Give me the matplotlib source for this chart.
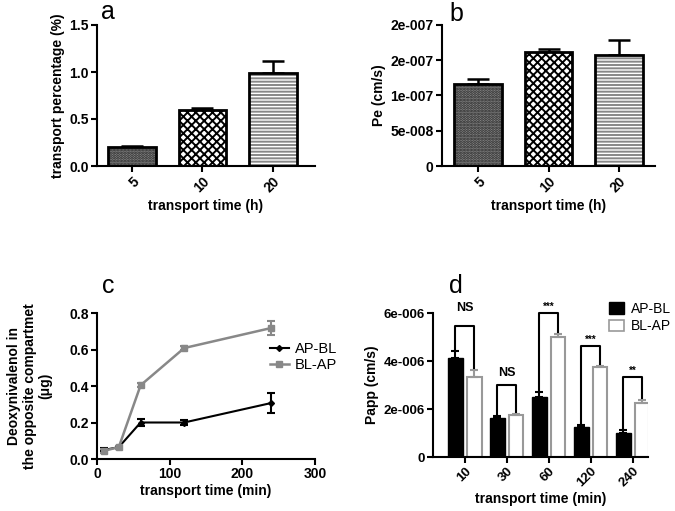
import numpy as np
import matplotlib
matplotlib.use("Agg")
import matplotlib.pyplot as plt
from matplotlib.lines import Line2D
from matplotlib.patches import Patch

plt.rcParams['font.family'] = ['Liberation Sans', 'DejaVu Sans']
plt.rcParams['font.weight'] = 'bold'
plt.rcParams['axes.labelweight'] = 'bold'
plt.rcParams['hatch.linewidth'] = 1.4

# %% data
hours = ["5", "10", "20"]
pct = [0.20, 0.60, 0.99]
pct_err = [0.015, 0.02, 0.125]
pe = [1.16e-7, 1.61e-7, 1.57e-7]
pe_err = [0.07e-7, 0.055e-7, 0.22e-7]

minutes = [10, 30, 60, 120, 240]
ap_bl = [0.05, 0.065, 0.20, 0.20, 0.307]
ap_bl_err = [0.008, 0.008, 0.02, 0.015, 0.055]
bl_ap = [0.045, 0.065, 0.404, 0.608, 0.718]
bl_ap_err = [0.01, 0.008, 0.012, 0.01, 0.04]

groups = ["10", "30", "60", "120", "240"]
papp_ap = [4.14e-6, 1.63e-6, 2.51e-6, 1.26e-6, 0.98e-6]
papp_ap_err = [0.28e-6, 0.07e-6, 0.18e-6, 0.06e-6, 0.14e-6]
papp_bl = [3.32e-6, 1.73e-6, 4.99e-6, 3.77e-6, 2.23e-6]
papp_bl_err = [0.31e-6, 0.05e-6, 0.14e-6, 0.03e-6, 0.14e-6]
sig = ["NS", "NS", "***", "***", "**"]
sig_top = [5.44e-6, 3.0e-6, 6.0e-6, 4.63e-6, 3.35e-6]

pe_ticks = [0, 5e-8, 1e-7, 1.5e-7, 2e-7]
pe_labels = ["0", "5e-008", "1e-007", "2e-007", "2e-007"]
papp_ticks = [0, 2e-6, 4e-6, 6e-6]
papp_labels = ["0", "2e-006", "4e-006", "6e-006"]

W, H = 675, 511
fig = plt.figure(figsize=(W / 100, H / 100), dpi=100)

def box(l, t, r, b):
    return [l / W, 1 - b / H, (r - l) / W, (b - t) / H]

def style(ax, size=10):
    for s in ["top", "right"]:
        ax.spines[s].set_visible(False)
    for s in ["left", "bottom"]:
        ax.spines[s].set_linewidth(1.5)
    ax.tick_params(width=1.5, length=4, labelsize=size, pad=2)
    for lab in ax.get_xticklabels() + ax.get_yticklabels():
        lab.set_fontweight("bold")

hatch_styles = [
    dict(facecolor="#8a8a8a", hatch="......", hc="#222222"),
    dict(facecolor="white", hatch="xxxx", hc="black"),
    dict(facecolor="white", hatch="-----", hc="#888888"),
]

def hatched_bars(ax, vals, errs):
    x = np.arange(len(vals))
    for i, v in enumerate(vals):
        st = hatch_styles[i]
        ax.bar(x[i], v, width=0.68, color=st["facecolor"], hatch=st["hatch"],
               edgecolor=st["hc"], linewidth=0, zorder=2)
        ax.bar(x[i], v, width=0.68, fill=False, edgecolor="black",
               linewidth=2, zorder=3)
    ax.errorbar(x, vals, yerr=[np.zeros(len(vals)), errs], fmt="none",
                ecolor="black", elinewidth=1.8, capsize=8, capthick=1.8, zorder=1)
    ax.set_xticks(x)
    ax.set_xticklabels(hours, rotation=45, ha="right", rotation_mode="anchor")
    ax.set_xlabel("transport time (h)", fontsize=10, labelpad=3)

# %% panel a
ax_a = fig.add_axes(box(97, 25, 315, 166))
hatched_bars(ax_a, pct, pct_err)
ax_a.set_xlim(-0.5, 2.6)
ax_a.set_ylim(0, 1.5)
ax_a.set_yticks([0, 0.5, 1.0, 1.5])
ax_a.set_yticklabels(["0.0", "0.5", "1.0", "1.5"])
ax_a.set_ylabel("transport percentage (%)", fontsize=10, labelpad=3)
style(ax_a)

# %% panel b
ax_b = fig.add_axes(box(442, 25, 655, 166))
hatched_bars(ax_b, pe, pe_err)
ax_b.set_xlim(-0.51, 2.51)
ax_b.set_ylim(0, 2e-7)
ax_b.set_yticks(pe_ticks)
ax_b.set_yticklabels(pe_labels)
ax_b.set_ylabel("Pe (cm/s)", fontsize=10, labelpad=3)
style(ax_b)

# %% panel c
ax_c = fig.add_axes(box(97, 313, 315, 459))
ax_c.errorbar(minutes, ap_bl, yerr=ap_bl_err, color="black", marker="D", ms=3,
              lw=1.5, elinewidth=1.5, capsize=3, capthick=1.5, label="AP-BL")
ax_c.errorbar(minutes, bl_ap, yerr=bl_ap_err, color="#888888", marker="s", ms=4,
              lw=1.8, elinewidth=1.5, capsize=3, capthick=1.5, label="BL-AP")
ax_c.set_xlim(0, 300)
ax_c.set_ylim(0, 0.8)
ax_c.set_xticks([0, 100, 200, 300])
ax_c.set_yticks([0, 0.2, 0.4, 0.6, 0.8])
ax_c.set_yticklabels(["0.0", "0.2", "0.4", "0.6", "0.8"])
ax_c.set_xlabel("transport time (min)", fontsize=10, labelpad=2)
ax_c.set_ylabel("Deoxynivalenol in\nthe opposite compartmet\n(\u03bcg)", fontsize=10,
                labelpad=12, linespacing=1.15)
style(ax_c)
leg_c = [Line2D([], [], color="black", marker="D", ms=3, lw=1.5),
         Line2D([], [], color="#888888", marker="s", ms=4, lw=1.8)]
fig.legend(leg_c, ["AP-BL", "BL-AP"], loc="upper left",
           bbox_to_anchor=(270 / W, 1 - 342 / H), frameon=False,
           prop={"size": 10.5, "weight": "normal"}, handlelength=1.3,
           handletextpad=0.4, labelspacing=0.15, borderaxespad=0, borderpad=0)

# %% panel d
ax_d = fig.add_axes(box(433, 313, 648, 457))
xd = np.arange(len(groups))
off = 0.225
ax_d.bar(xd - off, papp_ap, width=0.34, color="black", edgecolor="black",
         yerr=[np.zeros(5), papp_ap_err], error_kw=dict(ecolor="black", elinewidth=1.5,
                                                        capsize=3, capthick=1.5))
ax_d.bar(xd + off, papp_bl, width=0.34, color="white", edgecolor="#999999",
         linewidth=1.5, yerr=[np.zeros(5), papp_bl_err],
         error_kw=dict(ecolor="#999999", elinewidth=1.5, capsize=3, capthick=1.5))
for i in range(len(groups)):
    top = sig_top[i]
    yl = papp_ap[i] + papp_ap_err[i] + 0.08e-6
    yr = papp_bl[i] + papp_bl_err[i] + 0.08e-6
    ax_d.plot([i - off, i - off, i + off, i + off], [yl, top, top, yr],
              color="black", lw=1.5, clip_on=False)
    if sig[i] == "NS":
        ax_d.text(i, top + 0.25e-6, sig[i], ha="center", va="bottom",
                  fontsize=9, fontweight="bold", clip_on=False)
    else:
        ax_d.text(i, top + 0.05e-6, sig[i], ha="center", va="bottom",
                  fontsize=7, fontweight="bold", clip_on=False)
ax_d.texts[0].set_y(5.95e-6)
ax_d.set_xlim(-0.76, 4.36)
ax_d.set_ylim(0, 6e-6)
ax_d.set_xticks(xd)
ax_d.set_xticklabels(groups, rotation=45, ha="right", rotation_mode="anchor")
ax_d.set_yticks(papp_ticks)
ax_d.set_yticklabels(papp_labels)
ax_d.set_xlabel("transport time (min)", fontsize=10, labelpad=2)
ax_d.set_ylabel("Papp (cm/s)", fontsize=10, labelpad=3)
style(ax_d, size=9.5)
leg_d = [Patch(facecolor="black", edgecolor="black"),
         Patch(facecolor="white", edgecolor="#999999", linewidth=1.2)]
fig.legend(leg_d, ["AP-BL", "BL-AP"], loc="upper left",
           bbox_to_anchor=(609 / W, 1 - 302 / H), frameon=False,
           prop={"size": 10, "weight": "normal"}, handlelength=1.1,
           handleheight=0.9, handletextpad=0.45, labelspacing=0.25,
           borderaxespad=0, borderpad=0)

# %% panel letters
for x, y, s in [(101, 19, "a"), (449, 21, "b"), (102, 293, "c"), (449, 293, "d")]:
    fig.text(x / W, 1 - y / H, s, fontsize=18, fontweight="normal", va="baseline")

fig.savefig("out.png", dpi=100)
